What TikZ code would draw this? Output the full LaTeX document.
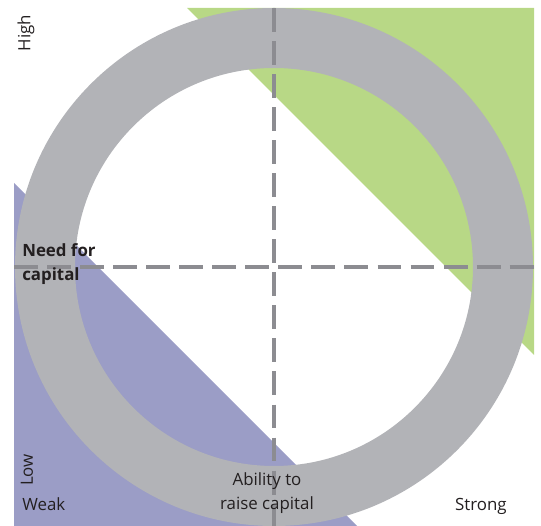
\documentclass[tikz,border=0pt]{standalone}
\usepackage{fontspec}
\setmainfont{Open Sans}
\usetikzlibrary{calc}
\definecolor{zonegreen}{RGB}{184,216,134}
\definecolor{zoneblue}{RGB}{155,157,198}
\definecolor{ringgray}{RGB}{178,179,183}
\definecolor{axisgray}{RGB}{140,140,145}
\definecolor{labeltext}{RGB}{35,31,32}
\tikzset{
    axisline/.style={draw=axisgray, line width=2.2pt, dash pattern=on 17pt off 6.5pt},
    axislabel/.style={text=labeltext, inner sep=0pt, font=\fontsize{12}{17}\selectfont},
  }

\begin{document}
\begin{tikzpicture}[x=0.025cm, y=0.025cm]
				  %units : 1 = 1px, y up
				  \useasboundingbox (0,0) rectangle (541,526);
				  \coordinate(O) at (274,259);
				  \coordinate(L) at (14,259);
				  \coordinate(R) at (534,259);
				  \coordinate(T) at (274,518);
				  \coordinate(B) at (274,0);

				  %zones
				  \fill[zonegreen] (187,518) -- (534,518) -- (534,171) -- cycle;
				  \fill[zoneblue] (14,343) -- (14,0) -- (357,0) -- cycle;

				  %anneau
				  \fill[ringgray, even odd rule] (O) circle (259) (O) circle (199);

				  %axes
				  \draw[axisline] (L) -- (R);
				  \draw[axisline] (T) -- (B);

				  \node[axislabel, rotate=90] (high) at (26,493) {High};
				  \node[axislabel, rotate=90] (low) at (27,56) {Low};
				  \node[axislabel, anchor=base west] (weak) at (22,15) {Weak};
				  \node[axislabel, anchor=base east] (strong) at (507,15) {Strong};
				  \node[axislabel, align=center] (ability) at (267,33) {Ability to\\raise capital};
				  \node[axislabel, align=left, anchor=west, font=\fontsize{12}{17}\selectfont\bfseries] (need) at (22,262) {Need for\\capital};
				  \end{tikzpicture}
\end{document}
